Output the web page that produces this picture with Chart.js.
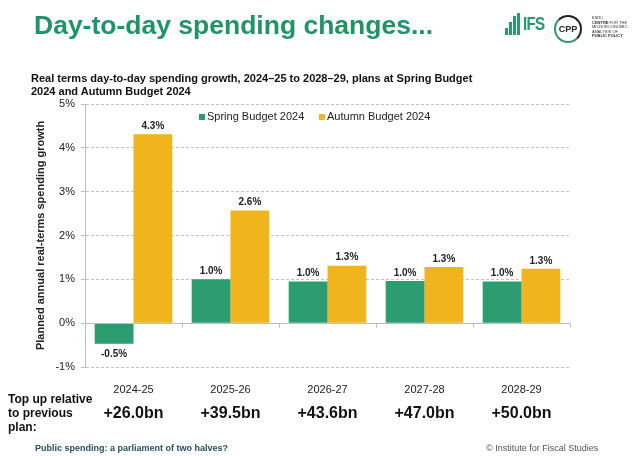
<!DOCTYPE html>
<html>
<head>
<meta charset="utf-8">
<script src="https://cdn.jsdelivr.net/npm/chart.js@4"></script>
<style>
  body { margin: 0; background: #fff; font-family: 'Liberation Sans', Arial, sans-serif; }
  #wrap { position: relative; width: 634px; height: 456px; overflow: hidden; }
  #wrap canvas { position: absolute; left: 0; top: 0; }
  .txt { position: absolute; white-space: nowrap; }
  #title { left: 34px; top: 10px; font-size: 26.5px; font-weight: bold; color: #1f9466; line-height: 30px; }
  #subtitle { left: 31px; top: 72px; font-size: 11px; font-weight: bold; color: #111; line-height: 13px; }
  #topup { left: 8px; top: 392px; font-size: 12px; font-weight: bold; color: #111; line-height: 14px; }
  #foot1 { left: 35px; top: 443px; font-size: 9px; font-weight: bold; color: #2c4f5c; }
  #foot2 { left: 486px; top: 443px; font-size: 9px; color: #555; }
  .bar { position: absolute; background: #2a9a6c; width: 3px; }
  #ifs { left: 523px; top: 13px; font-size: 19px; font-weight: bold; color: #2a9a6c; letter-spacing: -1px; transform: scaleX(0.8); transform-origin: left; line-height: 22px; }
  #cpp { position: absolute; left: 554px; top: 15px; width: 24px; height: 24px; border-radius: 50%; border: 2px solid #222; border-left-color: #2a9a6c; border-bottom-color: #2a9a6c; font-size: 9px; font-weight: bold; color: #222; text-align: center; line-height: 24px; }
  #cppt { left: 592px; top: 16px; font-size: 4px; line-height: 4.6px; color: #333; }
</style>
</head>
<body>
<div id="wrap">
  <canvas id="chart" width="634" height="456"></canvas>
  <div class="txt" id="title">Day-to-day spending changes...</div>
  <div class="bar" style="left:505px; top:28px; height:7px"></div>
  <div class="bar" style="left:509px; top:22px; height:13px"></div>
  <div class="bar" style="left:513px; top:16px; height:19px"></div>
  <div class="bar" style="left:517px; top:13px; height:22px"></div>
  <div class="txt" id="ifs">IFS</div>
  <div id="cpp">CPP</div>
  <div class="txt" id="cppt">ESRC<br><b>CENTRE</b> FOR THE<br>MICROECONOMIC<br>ANALYSIS OF<br><b>PUBLIC POLICY</b></div>
  <div class="txt" id="subtitle">Real terms day-to-day spending growth, 2024–25 to 2028–29, plans at Spring Budget<br>2024 and Autumn Budget 2024</div>
  <div class="txt" id="topup">Top up relative<br>to previous<br>plan:</div>
  <div class="txt" id="foot1">Public spending: a parliament of two halves?</div>
  <div class="txt" id="foot2">© Institute for Fiscal Studies</div>
</div>
<script>
const categories = ['2024-25', '2025-26', '2026-27', '2027-28', '2028-29'];
const springValues = [-0.47, 1.0, 0.95, 0.96, 0.95];
const autumnValues = [4.31, 2.57, 1.31, 1.28, 1.24];
const springLabels = ['-0.5%', '1.0%', '1.0%', '1.0%', '1.0%'];
const autumnLabels = ['4.3%', '2.6%', '1.3%', '1.3%', '1.3%'];
const topUps = ['+26.0bn', '+39.5bn', '+43.6bn', '+47.0bn', '+50.0bn'];
const yMin = -1, yMax = 5, yStep = 1;

const green = '#2c9d70';
const yellow = '#f0b41c';
const fontFam = "'Liberation Sans', Arial, sans-serif";

Chart.defaults.font.family = fontFam;
Chart.defaults.color = '#222';

// solid axis line at 0% with little ticks between categories
const zeroLine = {
  id: 'zeroLine',
  afterDatasetsDraw(chart) {
    const { ctx, chartArea, scales: { x, y } } = chart;
    const y0 = Math.round(y.getPixelForValue(0)) + 0.5;
    ctx.save();
    ctx.strokeStyle = '#bdbdbd';
    ctx.lineWidth = 1;
    ctx.beginPath();
    ctx.moveTo(chartArea.left, y0);
    ctx.lineTo(chartArea.right, y0);
    for (let i = 0; i <= categories.length; i++) {
      const px = Math.round(x.getPixelForValue(i - 0.5)) + 0.5;
      ctx.moveTo(px, y0);
      ctx.lineTo(px, y0 + 4);
    }
    ctx.stroke();
    ctx.restore();
  }
};

const barLabels = {
  id: 'barLabels',
  afterDatasetsDraw(chart) {
    const { ctx } = chart;
    const labelSets = [springLabels, autumnLabels];
    ctx.save();
    ctx.font = 'bold 10px ' + fontFam;
    ctx.fillStyle = '#222';
    ctx.textAlign = 'center';
    chart.data.datasets.forEach((ds, di) => {
      chart.getDatasetMeta(di).data.forEach((bar, i) => {
        if (ds.data[i] >= 0) {
          ctx.textBaseline = 'bottom';
          ctx.fillText(labelSets[di][i], bar.x, bar.y - 3);
        } else {
          ctx.textBaseline = 'top';
          ctx.fillText(labelSets[di][i], bar.x, bar.y + 5);
        }
      });
    });
    ctx.restore();
  }
};

const innerLegend = {
  id: 'innerLegend',
  afterDraw(chart) {
    const { ctx, chartArea } = chart;
    const y = chartArea.top + 13;
    const starts = [199, 319];
    ctx.save();
    ctx.font = '11px ' + fontFam;
    ctx.textBaseline = 'middle';
    ctx.textAlign = 'left';
    chart.data.datasets.forEach((ds, i) => {
      ctx.fillStyle = ds.backgroundColor;
      ctx.fillRect(starts[i], y - 3, 6, 6);
      ctx.fillStyle = '#222';
      ctx.fillText(ds.label, starts[i] + 8, y);
    });
    ctx.restore();
  }
};

const topUpRow = {
  id: 'topUpRow',
  afterDraw(chart) {
    const { ctx, scales: { x } } = chart;
    ctx.save();
    ctx.font = 'bold 16px ' + fontFam;
    ctx.fillStyle = '#111';
    ctx.textAlign = 'center';
    ctx.textBaseline = 'middle';
    topUps.forEach((t, i) => ctx.fillText(t, x.getPixelForValue(i), 414));
    ctx.restore();
  }
};

new Chart(document.getElementById('chart'), {
  type: 'bar',
  data: {
    labels: categories,
    datasets: [
      { label: 'Spring Budget 2024', data: springValues, backgroundColor: green },
      { label: 'Autumn Budget 2024', data: autumnValues, backgroundColor: yellow }
    ]
  },
  options: {
    responsive: false,
    animation: false,
    categoryPercentage: 0.8,
    barPercentage: 1.0,
    layout: { padding: { left: 0, right: 64, top: 104, bottom: 0 } },
    plugins: {
      legend: { display: false },
      tooltip: { enabled: false }
    },
    scales: {
      x: {
        afterFit: (s) => { s.height = 89; },
        grid: { display: false },
        border: { display: false },
        ticks: { padding: 8, color: '#222', font: { size: 11 } }
      },
      y: {
        min: yMin,
        max: yMax,
        afterFit: (s) => { s.width = 85; },
        ticks: {
          stepSize: yStep,
          padding: 6,
          color: '#222',
          font: { size: 11 },
          callback: (v) => v + '%'
        },
        grid: { color: '#c4c4c4', tickColor: '#bdbdbd', tickLength: 4, lineWidth: 1 },
        border: { display: true, color: '#bdbdbd', dash: [3, 2] },
        title: {
          display: true,
          text: 'Planned annual real-terms spending growth',
          color: '#222',
          font: { size: 11, weight: 'bold' },
          padding: { top: 34, bottom: 0 }
        }
      }
    }
  },
  plugins: [zeroLine, barLabels, innerLegend, topUpRow]
});
</script>
</body>
</html>
